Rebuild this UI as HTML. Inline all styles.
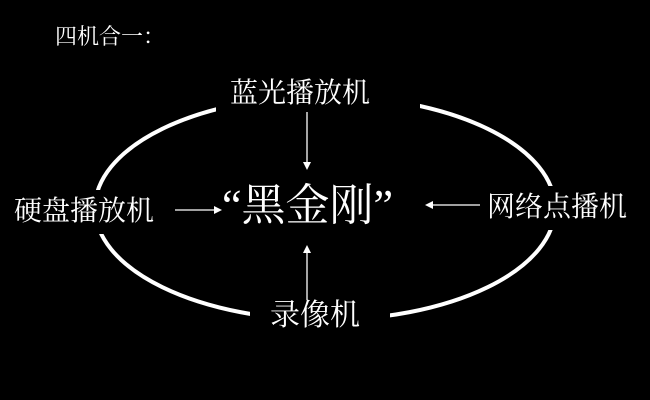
<!DOCTYPE html>
<html><head><meta charset="utf-8"><style>
html,body{margin:0;padding:0;background:#000;}
#c{position:relative;width:650px;height:400px;background:#000;overflow:hidden;font-family:"Liberation Serif","Noto Serif CJK SC","Noto Sans CJK SC",serif;color:#fff;}
.l{position:absolute;background:#000;white-space:nowrap;line-height:1;}
</style></head><body><div id="c">
<svg width="650" height="400" style="position:absolute;left:0;top:0">
<ellipse cx="325" cy="208" rx="230" ry="112" fill="none" stroke="#fff" stroke-width="4"/>
<g stroke="#fff" stroke-width="1.3" fill="#fff">
<line x1="307" y1="112" x2="307" y2="166"/><polygon points="303,162 311,162 307,170" stroke="none"/>
<line x1="307" y1="300" x2="307" y2="249"/><polygon points="303,253 311,253 307,245" stroke="none"/>
<line x1="175" y1="210" x2="218" y2="210"/><polygon points="214,206 214,214 222,210" stroke="none"/>
<line x1="480" y1="205" x2="429" y2="205"/><polygon points="433,201 433,209 425,205" stroke="none"/>
</g></svg>
<div class="l" style="left:55px;top:26px;font-size:22px;">四机合一：</div>
<div class="l" style="left:216px;top:76px;font-size:28px;padding:4px 50px 4px 14px;">蓝光播放机</div>
<div class="l" style="left:12px;top:190px;font-size:28px;padding:8px 2px;">硬盘播放机</div>
<div class="l" style="left:485px;top:186px;font-size:28px;padding:8px 2px;">网络点播机</div>
<div class="l" style="left:250px;top:301px;font-size:30px;padding:0 30px 6px 20px;">录像机</div>
<div class="l" style="left:222px;top:184px;font-size:44px;background:transparent;">“黑金刚”</div>
</div></body></html>
